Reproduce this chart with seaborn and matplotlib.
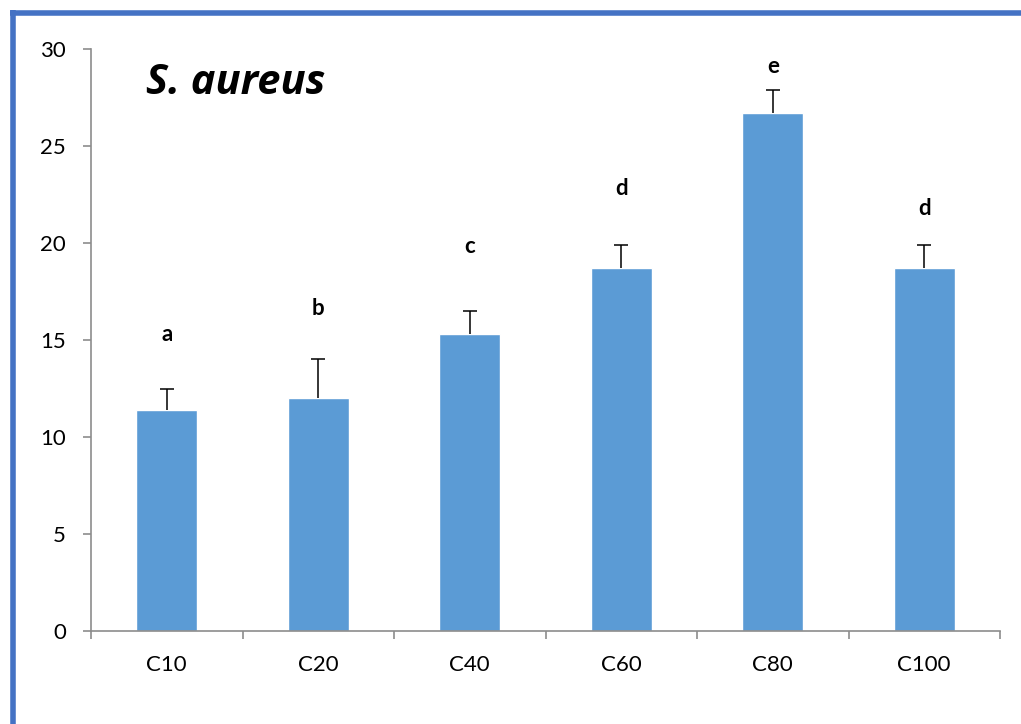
import matplotlib
matplotlib.use("Agg")
import matplotlib.pyplot as plt
from matplotlib.lines import Line2D
import seaborn as sns
import pandas as pd
import numpy as np

categories = ["C10", "C20", "C40", "C60", "C80", "C100"]
values = [11.4, 12.0, 15.3, 18.7, 26.7, 18.7]
errors = [1.1, 2.0, 1.2, 1.2, 1.2, 1.2]
letters = ["a", "b", "c", "d", "e", "d"]
letter_y = [15.3, 16.6, 19.8, 22.8, 29.1, 21.8]
y_ticks = [0, 5, 10, 15, 20, 25, 30]

sns.set_theme(style="white")
plt.rcParams["font.family"] = ["Lato", "DejaVu Sans"]
plt.rcParams["text.color"] = "black"

df = pd.DataFrame({"group": categories, "value": values})

fig = plt.figure(figsize=(10.21, 7.24), dpi=100)
ax = fig.add_axes([91 / 1021, 1 - 631 / 724, 909 / 1021, 582 / 724])

sns.barplot(data=df, x="group", y="value", order=categories, color="#5B9BD5",
            saturation=1, width=0.4, errorbar=None, ax=ax)

# upper-only error bars: hide the lower caps that sit on the bar tops
x = np.arange(len(categories))
eb = ax.errorbar(x, values, yerr=[np.zeros(len(values)), errors], fmt="none",
                 ecolor="black", elinewidth=1.1, capsize=5, capthick=1.1)
eb[1][0].set_visible(False)

for xi, lab, ly in zip(x, letters, letter_y):
    ax.text(xi, ly, lab, ha="center", va="center", fontsize=16,
            fontweight="bold", color="black")

ax.set_ylim(0, 30)
ax.set_xlim(-0.5, len(categories) - 0.5)
ax.set_yticks(y_ticks)
ax.set_xticks(x)
ax.set_xticks(np.arange(-0.5, len(categories)), minor=True)
ax.set_xticklabels(categories)
ax.set_xlabel("")
ax.set_ylabel("")

for side in ["top", "right"]:
    ax.spines[side].set_visible(False)
for side in ["left", "bottom"]:
    ax.spines[side].set_color("#8C8C8C")
    ax.spines[side].set_linewidth(1.2)

ax.tick_params(axis="y", which="major", left=True, length=6, width=1.2,
               color="#8C8C8C", labelsize=16, pad=12, labelcolor="black")
ax.tick_params(axis="x", which="major", bottom=False, length=0,
               labelsize=16, pad=17, labelcolor="black")
ax.tick_params(axis="x", which="minor", bottom=True, length=6, width=1.2,
               color="#8C8C8C")

ax.text(0.06, 0.94, "S. aureus", transform=ax.transAxes, fontsize=30,
        fontweight="bold", fontstyle="italic", ha="left", va="center",
        color="black", family=["Open Sans", "Lato", "DejaVu Sans"])

# outer frame: left and top edges
frame_color = "#4472C4"
fig.add_artist(Line2D([12.5 / 1021, 12.5 / 1021], [0, 1 - 10 / 724],
                      transform=fig.transFigure, color=frame_color, lw=4,
                      solid_capstyle="butt"))
fig.add_artist(Line2D([10 / 1021, 1], [1 - 13 / 724, 1 - 13 / 724],
                      transform=fig.transFigure, color=frame_color, lw=4,
                      solid_capstyle="butt"))

fig.savefig("out.png", dpi=100)
